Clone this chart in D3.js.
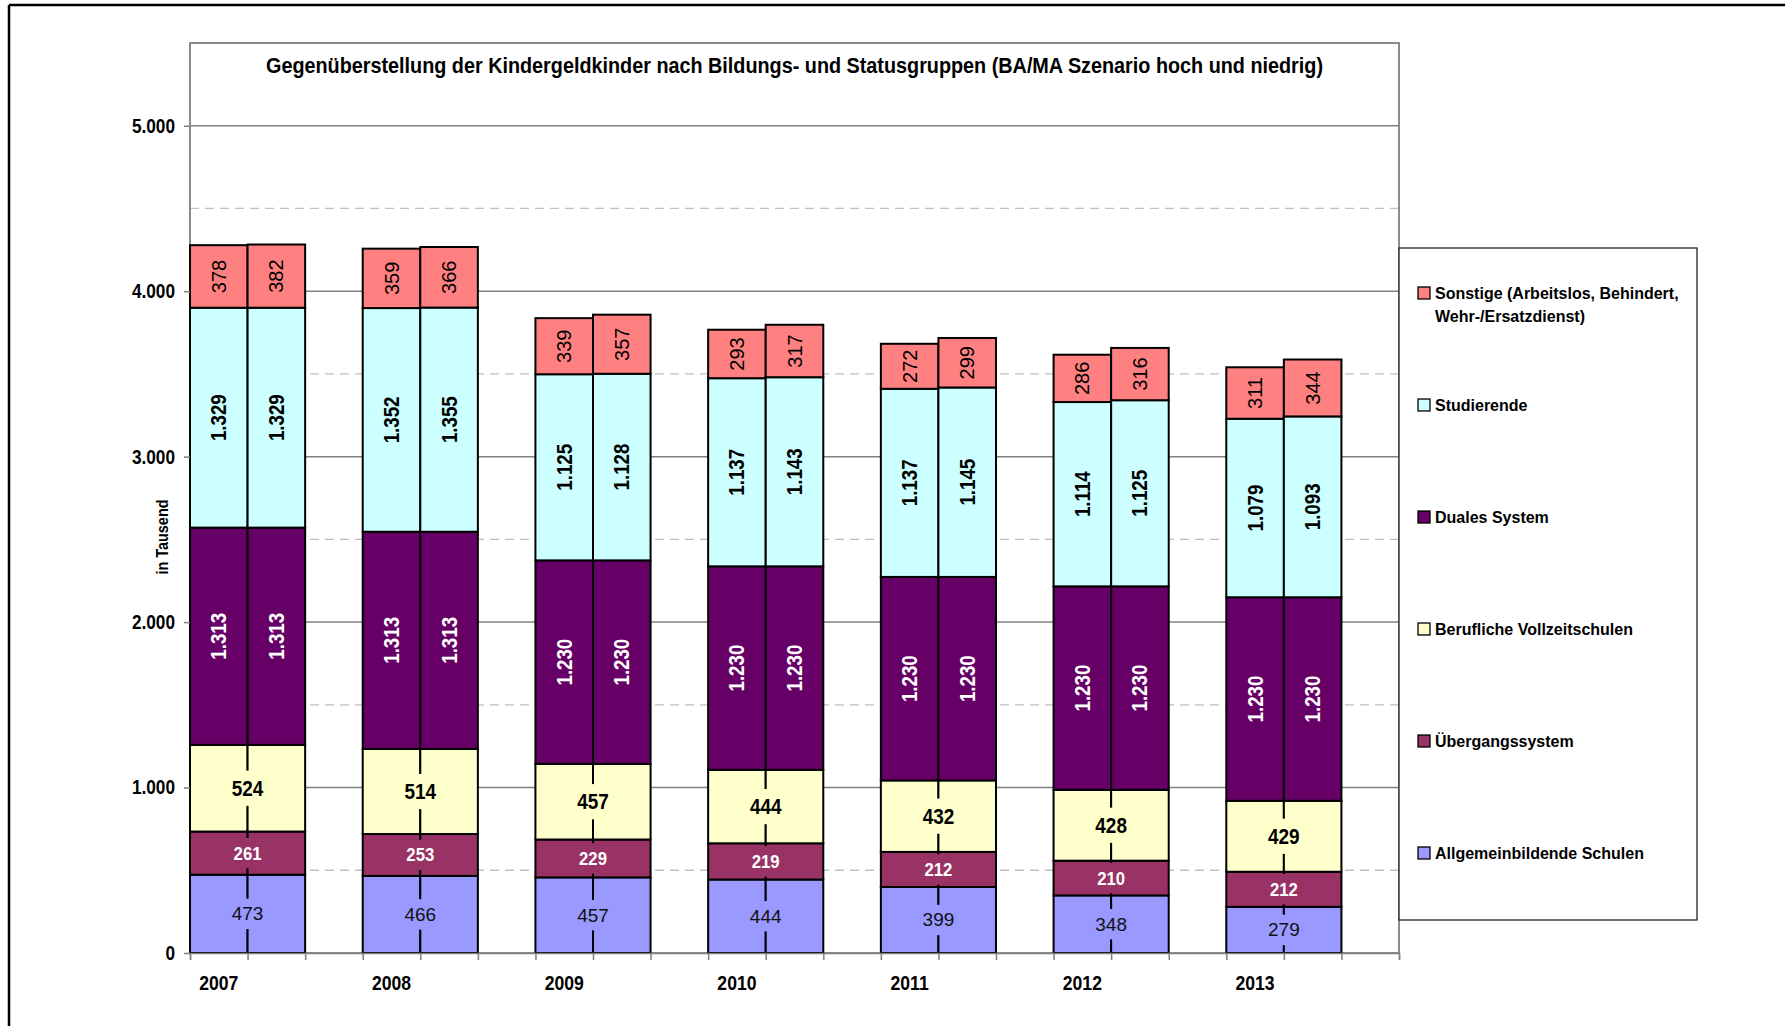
<!DOCTYPE html>
<html>
<head>
<meta charset="utf-8">
<script src="https://cdn.jsdelivr.net/npm/d3@7"></script>
<style>
  body { margin: 0; background: #fff; }
  svg { display: block; }
</style>
</head>
<body>
<script>
"use strict"

// data (Tausend)
var years = ["2007", "2008", "2009", "2010", "2011", "2012", "2013"];
var slots = ["hoch", "niedrig", "leer"];

var allgemein    = [473, 466, 457, 444, 399, 348, 279];
var uebergang    = [261, 253, 229, 219, 212, 210, 212];
var beruflich    = [524, 514, 457, 444, 432, 428, 429];
var dualHoch     = [1313, 1313, 1230, 1230, 1230, 1230, 1230];
var dualNiedrig  = [1313, 1313, 1230, 1230, 1230, 1230, 1230];
var studHoch     = [1329, 1352, 1125, 1137, 1137, 1114, 1079];
var studNiedrig  = [1329, 1355, 1128, 1143, 1145, 1125, 1093];
var sonstHoch    = [378, 359, 339, 293, 272, 286, 311];
var sonstNiedrig = [382, 366, 357, 317, 299, 316, 344];

var yTicks = [0, 1000, 2000, 3000, 4000, 5000];
var yDashed = [500, 1500, 2500, 3500, 4500];

var legendNames = ["Sonstige (Arbeitslos, Behindert,|Wehr-/Ersatzdienst)", "Studierende", "Duales System",
                   "Berufliche Vollzeitschulen", "Übergangssystem", "Allgemeinbildende Schulen"];

var font = "'Liberation Sans', Arial, sans-serif";

// series from bottom to top; shared ones get one flat label across the pair
// squeeze < 1 fakes the condensed face of the original
var series = [
  {name: "Allgemeinbildende Schulen", hoch: allgemein, niedrig: allgemein, fill: "#9999ff",
   shared: true, weight: "normal", size: 19, squeeze: 1, color: "#111"},
  {name: "Übergangssystem", hoch: uebergang, niedrig: uebergang, fill: "#993366",
   shared: true, weight: "bold", size: 19, squeeze: 0.88, color: "#fff"},
  {name: "Berufliche Vollzeitschulen", hoch: beruflich, niedrig: beruflich, fill: "#ffffcc",
   shared: true, weight: "bold", size: 22, squeeze: 0.86, color: "#000"},
  {name: "Duales System", hoch: dualHoch, niedrig: dualNiedrig, fill: "#660066",
   shared: false, weight: "bold", size: 22, squeeze: 0.85, color: "#fff"},
  {name: "Studierende", hoch: studHoch, niedrig: studNiedrig, fill: "#ccffff",
   shared: false, weight: "bold", size: 22, squeeze: 0.85, color: "#000"},
  {name: "Sonstige", hoch: sonstHoch, niedrig: sonstNiedrig, fill: "#ff8080",
   shared: false, weight: "normal", size: 20, squeeze: 1, color: "#000"}
];

var de = d3.formatLocale({decimal: ",", thousands: ".", grouping: [3], currency: ["", " €"]});
var fmt = de.format(",");

function condense(sel, ratio) {
  if (ratio >= 1) return;
  sel.each(function() {
    var w = this.getComputedTextLength();
    d3.select(this).attr("textLength", w * ratio).attr("lengthAdjust", "spacingAndGlyphs");
  });
}

var width = 1785, height = 1026;
var plot = {left: 190, right: 1399, top: 43, bottom: 953};

var svgContainer = d3.select("body").append("svg")
                                    .attr("width", width)
                                    .attr("height", height);

// outer frame (only top and left visible)
svgContainer.append("line").attr("x1", 9).attr("y1", 5).attr("x2", width).attr("y2", 5)
            .attr("stroke", "#000").attr("stroke-width", 2.5);
svgContainer.append("line").attr("x1", 9).attr("y1", 5).attr("x2", 9).attr("y2", height)
            .attr("stroke", "#000").attr("stroke-width", 2.5);

var y = d3.scaleLinear().domain([0, 5500]).range([plot.bottom, plot.top]);
var x = d3.scaleBand().domain(years).range([plot.left, plot.right]);
var xs = d3.scaleBand().domain(slots).range([0, x.bandwidth()]);
var slotScale = d3.scaleLinear().domain([0, years.length * slots.length]).range([plot.left, plot.right]);

// gridlines
svgContainer.append("g").selectAll("line").data(yDashed).join("line")
            .attr("x1", plot.left).attr("x2", plot.right)
            .attr("y1", function(d) { return y(d); }).attr("y2", function(d) { return y(d); })
            .attr("stroke", "#c0c0c0").attr("stroke-width", 1.3).attr("stroke-dasharray", "9,6");
svgContainer.append("g").selectAll("line").data(yTicks.slice(1)).join("line")
            .attr("x1", plot.left).attr("x2", plot.right)
            .attr("y1", function(d) { return y(d); }).attr("y2", function(d) { return y(d); })
            .attr("stroke", "#808080").attr("stroke-width", 1.5);

// plot border
svgContainer.append("rect").attr("x", plot.left).attr("y", plot.top)
            .attr("width", plot.right - plot.left).attr("height", plot.bottom - plot.top)
            .attr("fill", "none").attr("stroke", "#808080").attr("stroke-width", 1.8);

// stack the segments
var segs = [];
years.forEach(function(yr, i) {
  ["hoch", "niedrig"].forEach(function(sc) {
    var base = 0;
    series.forEach(function(s) {
      var v = s[sc][i];
      segs.push({year: yr, i: i, scen: sc, s: s, y0: base, y1: base + v, v: v});
      base += v;
    });
  });
});

svgContainer.append("g").selectAll("rect").data(segs).join("rect")
            .attr("x", function(d) { return x(d.year) + xs(d.scen); })
            .attr("width", xs.bandwidth())
            .attr("y", function(d) { return y(d.y1); })
            .attr("height", function(d) { return y(d.y0) - y(d.y1); })
            .attr("fill", function(d) { return d.s.fill; })
            .attr("stroke", "#000").attr("stroke-width", 2);

// axes
var yAxis = svgContainer.append("g").attr("transform", "translate(" + plot.left + ",0)")
            .call(d3.axisLeft(y).tickValues(yTicks).tickFormat(fmt).tickSize(6).tickPadding(9));
yAxis.select(".domain").remove();
yAxis.selectAll("line").attr("stroke", "#808080").attr("stroke-width", 1.5);
yAxis.selectAll("text").attr("font-family", font).attr("font-weight", "bold")
     .attr("font-size", 20).attr("fill", "#000");
condense(yAxis.selectAll("text"), 0.86);

var xAxis = svgContainer.append("g").attr("transform", "translate(0," + plot.bottom + ")")
            .call(d3.axisBottom(slotScale).tickValues(d3.range(years.length * slots.length + 1))
                    .tickFormat("").tickSize(7));
xAxis.selectAll("line, path").attr("stroke", "#808080").attr("stroke-width", 1.5);

var yearLabels = svgContainer.append("g").selectAll("text").data(years).join("text")
            .attr("x", function(d) { return x(d) + xs("hoch") + xs.bandwidth() / 2; })
            .attr("y", 990)
            .attr("text-anchor", "middle")
            .attr("font-family", font).attr("font-weight", "bold").attr("font-size", 20)
            .text(function(d) { return d; });
condense(yearLabels, 0.88);

// labels
var labelLayer = svgContainer.append("g");
segs.forEach(function(d) {
  var cy = y((d.y0 + d.y1) / 2);
  if (d.s.shared) {
    if (d.scen !== "hoch") return;
    var cx = x(d.year) + xs("niedrig");
    var g = labelLayer.append("g");
    var bg = g.append("rect").attr("fill", d.s.fill);
    var t = g.append("text").attr("x", cx).attr("y", cy)
             .attr("text-anchor", "middle").attr("dominant-baseline", "central")
             .attr("font-family", font).attr("font-weight", d.s.weight)
             .attr("font-size", d.s.size).attr("fill", d.s.color)
             .text(fmt(d.v));
    condense(t, d.s.squeeze);
    var bb = t.node().getBBox();
    bg.attr("x", bb.x - 3).attr("width", bb.width + 6)
      .attr("y", cy - d.s.size * 0.8).attr("height", d.s.size * 1.6);
  } else {
    var cx2 = x(d.year) + xs(d.scen) + xs.bandwidth() / 2;
    var t2 = labelLayer.append("text")
              .attr("transform", "translate(" + cx2 + "," + cy + ") rotate(-90)")
              .attr("text-anchor", "middle").attr("dominant-baseline", "central")
              .attr("font-family", font).attr("font-weight", d.s.weight)
              .attr("font-size", d.s.size).attr("fill", d.s.color)
              .text(fmt(d.v));
    condense(t2, d.s.squeeze);
  }
});

// title (original uses a condensed face, so squeeze it)
svgContainer.append("text").attr("x", (plot.left + plot.right) / 2).attr("y", 73)
            .attr("text-anchor", "middle")
            .attr("font-family", font).attr("font-weight", "bold").attr("font-size", 22)
            .attr("textLength", 1057).attr("lengthAdjust", "spacingAndGlyphs")
            .text("Gegenüberstellung der Kindergeldkinder nach Bildungs- und Statusgruppen (BA/MA Szenario hoch und niedrig)");

// y axis title
var yTitle = svgContainer.append("text").attr("transform", "translate(162,537) rotate(-90)")
            .attr("text-anchor", "middle").attr("dominant-baseline", "central")
            .attr("font-family", font).attr("font-weight", "bold").attr("font-size", 16)
            .text("in Tausend");
condense(yTitle, 0.9);

// legend
var legend = svgContainer.append("g");
legend.append("rect").attr("x", 1399).attr("y", 248).attr("width", 298).attr("height", 672)
      .attr("fill", "#fff").attr("stroke", "#222").attr("stroke-width", 1.3);

var legendFills = series.slice().reverse().map(function(s) { return s.fill; });
var legendY = d3.scalePoint().domain(legendNames).range([293, 853]);

legendNames.forEach(function(name, i) {
  var ly = legendY(name);
  legend.append("rect").attr("x", 1418).attr("y", ly - 6).attr("width", 12).attr("height", 12)
        .attr("fill", legendFills[i]).attr("stroke", "#000").attr("stroke-width", 1.3);
  var t = legend.append("text").attr("x", 1435).attr("y", ly)
                .attr("dominant-baseline", "central")
                .attr("font-family", font).attr("font-weight", "bold").attr("font-size", 16);
  name.split("|").forEach(function(part, j) {
    t.append("tspan").attr("x", 1435).attr("dy", j === 0 ? 0 : 23).text(part);
  });
});
</script>
</body>
</html>
